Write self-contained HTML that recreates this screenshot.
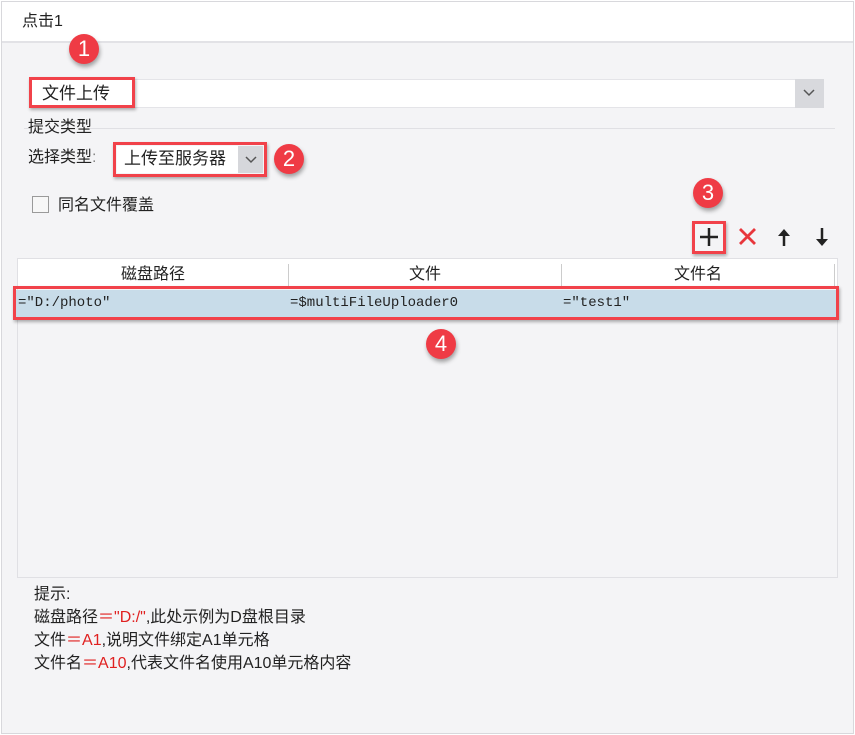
<!DOCTYPE html>
<html><head><meta charset="utf-8"><style>
*{margin:0;padding:0;box-sizing:border-box}
body{width:855px;height:735px;background:#fff;position:relative;overflow:hidden;font-family:"Liberation Sans","Noto Sans CJK SC",sans-serif;color:#222}
.a{position:absolute}
.cj{font-family:"Liberation Sans","Noto Sans CJK SC",sans-serif;font-size:16px;line-height:20px;white-space:nowrap}
.mono{font-family:"Liberation Mono","Noto Serif CJK SC",monospace;font-size:14px;white-space:nowrap}
.badge{position:absolute;width:30px;height:30px;border-radius:50%;background:#ef3b45;color:#fff;font-size:22px;line-height:30px;text-align:center;box-shadow:1px 3px 4px rgba(0,0,0,.35);font-family:"Liberation Sans",sans-serif}
.rb{position:absolute;border:3px solid #f1424a;box-shadow:1px 2px 3px rgba(0,0,0,.3)}
.red{color:#e02020}
</style></head><body>
<div class="a" style="left:1px;top:1px;width:853px;height:733px;border:1px solid #d8d8dc;background:#f4f4f6"></div>
<div class="a" style="left:2px;top:2px;width:851px;height:41px;background:#fff;border-bottom:2px solid #e2e2e6"></div>
<div class="a cj" style="left:22px;top:12px">点击1</div>

<div class="a" style="left:29px;top:79px;width:795px;height:29px;background:#fff;border:1px solid #e4e4e8"></div>
<div class="a" style="left:795px;top:79px;width:29px;height:29px;background:#d8d9dd"></div>
<svg class="a" style="left:802px;top:88px" width="14" height="10"><path d="M2 2 L7 7 L12 2" fill="none" stroke="#555" stroke-width="1.5"/></svg>
<div class="a cj" style="left:42px;top:84px;font-size:17px">文件上传</div>
<div class="rb" style="left:29px;top:77px;width:106px;height:31px"></div>
<div class="badge" style="left:69px;top:34px">1</div>

<div class="a cj" style="left:28px;top:118px">提交类型</div>
<div class="a" style="left:90px;top:128px;width:745px;height:1px;background:#e0e0e4"></div>
<div class="a" style="left:24px;top:128px;width:4px;height:1px;background:#e0e0e4"></div>

<div class="a cj" style="left:28px;top:148px">选择类型<span style="color:#888">:</span></div>
<div class="a" style="left:117px;top:146px;width:121px;height:27px;background:#fff"></div>
<div class="a" style="left:238px;top:146px;width:25px;height:27px;background:#d6d7db"></div>
<svg class="a" style="left:244px;top:155px" width="14" height="10"><path d="M2 2 L7 7 L12 2" fill="none" stroke="#555" stroke-width="1.5"/></svg>
<div class="a cj" style="left:124px;top:149px;font-size:17px">上传至服务器</div>
<div class="rb" style="left:113px;top:142px;width:154px;height:35px"></div>
<div class="badge" style="left:274px;top:144px">2</div>

<div class="a" style="left:32px;top:196px;width:17px;height:17px;border:1px solid #9a9a9a;background:#f7f7f7"></div>
<div class="a cj" style="left:58px;top:196px">同名文件覆盖</div>

<div class="badge" style="left:693px;top:178px">3</div>
<svg class="a" style="left:692px;top:221px" width="140" height="32">
<path d="M17 7 V25 M8 16 H26" stroke="#222" stroke-width="2.5"/>
<path d="M48 8 L63 23 M63 8 L48 23" stroke="#e8363c" stroke-width="2.8"/>
<path d="M92 10 V25" stroke="#222" stroke-width="2.5"/><path d="M86 15 L92 8 L98 15 Z" fill="#222"/>
<path d="M130 7 V22" stroke="#222" stroke-width="2.5"/><path d="M124 18 L130 25 L136 18 Z" fill="#222"/>
</svg>
<div class="rb" style="left:692px;top:221px;width:34px;height:33px"></div>

<div class="a" style="left:17px;top:258px;width:821px;height:320px;border:1px solid #e0e0e4;background:#f4f4f6"></div>
<div class="a" style="left:18px;top:259px;width:819px;height:30px;background:#fff"></div>
<div class="a" style="left:288px;top:264px;width:1px;height:25px;background:#ccc"></div>
<div class="a" style="left:561px;top:264px;width:1px;height:25px;background:#ccc"></div>
<div class="a" style="left:834px;top:264px;width:1px;height:25px;background:#ccc"></div>
<div class="a cj" style="left:18px;top:265px;width:270px;text-align:center">磁盘路径</div>
<div class="a cj" style="left:289px;top:265px;width:272px;text-align:center">文件</div>
<div class="a cj" style="left:562px;top:265px;width:272px;text-align:center">文件名</div>
<div class="a" style="left:16px;top:290px;width:821px;height:27px;background:#c8dce9"></div>
<div class="a mono" style="left:18px;top:295px">="D:/photo"</div>
<div class="a mono" style="left:290px;top:295px">=$multiFileUploader0</div>
<div class="a mono" style="left:563px;top:295px">="test1"</div>
<div class="rb" style="left:13px;top:286px;width:826px;height:34px"></div>
<div class="badge" style="left:426px;top:329px">4</div>

<div class="a cj" style="left:34px;top:583px;line-height:23px;font-size:16px">提示:<br>磁盘路径<span class="red">＝"D:/"</span>,此处示例为D盘根目录<br>文件<span class="red">＝A1</span>,说明文件绑定A1单元格<br>文件名<span class="red">＝A10</span>,代表文件名使用A10单元格内容</div>
</body></html>
